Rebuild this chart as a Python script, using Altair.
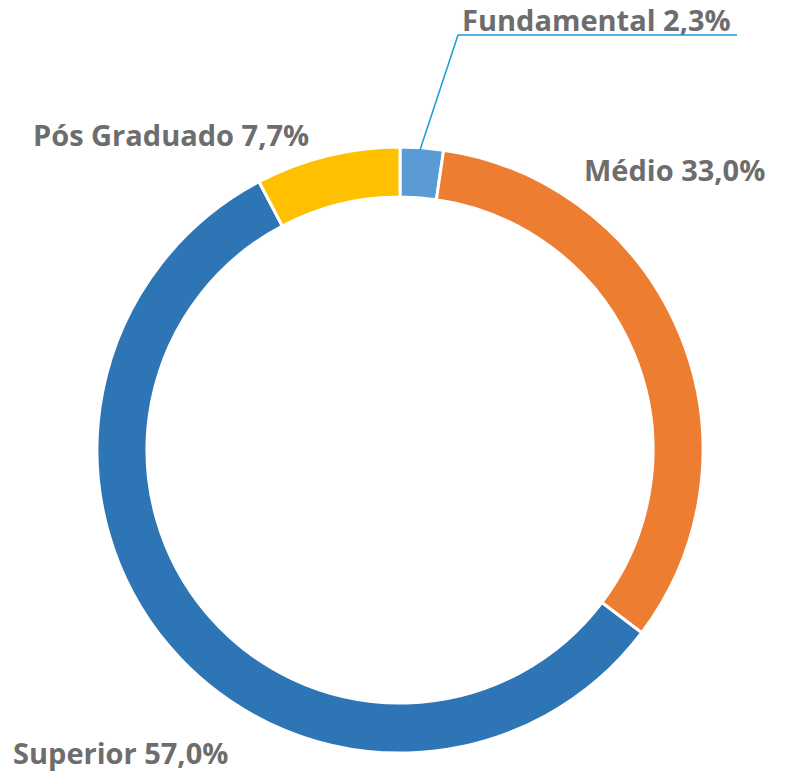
import altair as alt
import pandas as pd

categories = ["Fundamental", "Médio", "Superior", "Pós Graduado"]
values = [2.3, 33.0, 57.0, 7.7]
colors = ["#5b9bd5", "#ed7d31", "#2e75b6", "#ffc000"]
label_texts = ["Fundamental 2,3%", "Médio 33,0%", "Superior 57,0%", "Pós Graduado 7,7%"]

df = pd.DataFrame({"cat": categories, "val": values, "ord": list(range(len(categories)))})

W, H = 772, 764
CX, CY = 392, 442
R_OUT, R_IN = 303, 253

donut = alt.Chart(df).mark_arc(
    outerRadius=R_OUT, innerRadius=R_IN, stroke="white", strokeWidth=3
).encode(
    theta=alt.Theta("val:Q", stack=True),
    order=alt.Order("ord:Q"),
    color=alt.Color("cat:N", scale=alt.Scale(domain=categories, range=colors), legend=None),
    x=alt.value(CX),
    y=alt.value(CY),
)

label_pos = {
    "Fundamental 2,3%": (454, 23),
    "Médio 33,0%": (576, 173),
    "Superior 57,0%": (5, 756),
    "Pós Graduado 7,7%": (25, 138),
}

layers = [donut]
for t in label_texts:
    px, py = label_pos[t]
    layers.append(
        alt.Chart(pd.DataFrame({"t": [t]})).mark_text(
            font="Open Sans", fontWeight="bold", fontSize=29, color="#6d6d6d",
            align="left", baseline="alphabetic"
        ).encode(text="t:N", x=alt.value(px), y=alt.value(py))
    )

leader = alt.Chart(pd.DataFrame({"a": [0]})).mark_rule(color="#1a9bd7", strokeWidth=1.5)
layers.append(leader.encode(x=alt.value(412), y=alt.value(142), x2=alt.value(450), y2=alt.value(27)))
layers.append(leader.encode(x=alt.value(450), y=alt.value(27), x2=alt.value(729), y2=alt.value(27)))

chart = alt.layer(*layers).properties(
    width=W, height=H, autosize=alt.AutoSizeParams(type="none"), padding=0
).configure_view(stroke=None)

chart.save("out.html", embed_options={"renderer": "svg", "actions": False})
